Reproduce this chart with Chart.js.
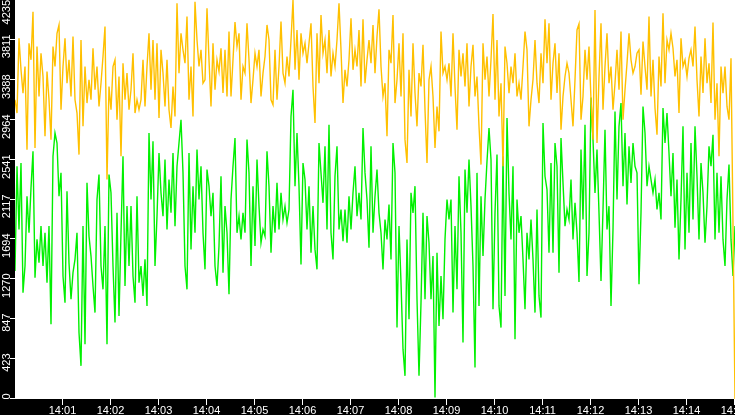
<!DOCTYPE html>
<html>
<head>
<meta charset="utf-8">
<title>Two series, 14:00 - 14:15</title>
<script src="https://cdn.jsdelivr.net/npm/chart.js@4.4.1/dist/chart.umd.min.js"></script>
<style>
  html, body { margin: 0; padding: 0; background: #000; }
  #wrap { width: 735px; height: 415px; position: relative; }
</style>
</head>
<body>
<div id="wrap"><canvas id="chart"></canvas></div>
<script>
// One sample every 2.5 s, starting at 14:00:00
const STEP_SECONDS = 2.5;

// Upper (orange) series
const orangeValues = [
  3176,3035,3829,3494,3247,3529,2647,3776,3600,4111,
  2664,3741,3211,3670,3423,2788,3476,3176,2752,3741,
  3529,3882,3970,3070,3529,3829,3352,3600,3211,3847,
  3176,3035,2594,3811,2894,3529,3141,3388,3176,3723,
  3282,3529,3105,3352,3635,3953,2329,3317,3070,3529,
  3600,2964,
  3423,2576,3564,3176,3459,3070,3282,3670,3035,3176,
  3070,3176,3600,3105,3529,3882,3282,3811,3176,3776,
  2982,3706,3459,3105,3600,3070,2876,3317,2999,4200,
  3459,3882,3706,3564,4059,3176,3529,2999,4217,3811,
  3529,3706,3352,3388,4147,3600,3105,3776,3282,3600,
  3476,3723,
  3247,3706,3211,3900,3211,3600,4000,3741,3882,3176,
  3529,3459,3988,3600,3141,3388,3670,3529,3706,3211,
  3459,3635,3970,3811,3176,3123,3706,3176,3529,4006,
  3459,3352,3635,3423,3811,4235,3494,3917,3388,3882,
  3670,3776,3564,3776,3988,3317,2929,3882,3352,4076,
  3670,3811,
  3459,3917,3423,3670,3529,3811,4200,3706,3141,3494,
  3317,3600,4041,3494,3706,3529,3917,3317,4030,3352,
  3600,3811,3564,3970,3459,3847,4136,3529,3211,3352,
  2788,3706,3564,4076,3141,3388,3776,3211,3882,2753,
  2505,3494,2999,3776,3247,2894,3459,3317,3759,3070,
  2505,3388,
  3529,3211,2664,3105,2841,3900,3459,3529,3388,3564,
  3211,3882,3317,2858,3706,3423,3670,3317,3776,3105,
  3529,3759,3211,3423,2894,2488,3776,3388,3635,3211,
  3600,4087,3176,3811,2999,3352,2470,3741,3564,3247,
  3529,3352,3670,3211,3352,3176,3529,3900,3706,2894,
  3176,3388,
  3811,3352,3141,3670,3352,4030,3564,3988,3176,3564,
  3776,3247,3670,2858,3211,3423,3564,3459,3176,2894,
  3388,3917,3981,2964,3211,3706,3388,3741,3176,2753,
  4129,2717,3423,3988,3070,3529,3882,3352,3529,3070,
  3352,3706,3282,3900,2964,3282,3564,3882,3600,3459,
  3529,3670,
  3706,3229,3794,3529,3282,4059,3211,3600,3088,2805,
  3635,3317,4094,3352,3811,3706,3882,3723,3423,3600,
  3035,3829,3529,3600,3423,3617,3706,3529,3953,3388,
  2999,3635,3247,3829,3352,3564,3141,3995,2964,3352,
  2576,3529,3247,3529,3105,2964,3617,1835,0
];

// Lower (green) series
const greenValues = [
  1358,2470,1799,2505,1129,1411,2152,1764,2241,2629,
  1288,1694,1446,1835,1411,1764,1235,1835,793,2576,
  2823,2717,2152,2400,1305,1023,2205,1446,1058,1341,
  1482,1764,705,352,1835,582,2294,1729,1517,1199,
  917,2117,2382,1411,1164,1835,582,2382,2188,1411,
  811,1976,
  882,1764,2576,1199,2047,1411,2047,1305,1023,2152,
  1235,1411,1094,1482,988,2823,2117,2735,1411,1941,
  2611,2188,1941,2541,1799,2329,1976,2611,1835,2470,
  2717,2964,2400,1411,1164,2611,1588,2259,1764,2647,
  2117,2470,1764,1376,2435,2259,1941,2188,1411,1199,
  1623,2364,
  1341,2047,1764,1111,2117,2470,2770,1764,1941,1694,
  1976,1764,2753,2400,1411,2259,1623,2541,2047,1658,
  1799,1729,2629,2259,1552,2047,1764,2294,1799,2188,
  1905,2047,1870,2011,2999,3282,2259,2823,2259,1429,
  2505,2329,1799,2259,1552,2047,1588,1376,2717,2400,
  2082,2682,
  1799,2911,1764,1482,2364,2682,1799,2011,1676,2011,
  1658,2152,1799,2188,2470,1941,2188,1905,2876,2400,
  2117,1605,2682,1764,2152,2435,1976,1764,1376,1905,
  1694,2064,1482,2717,2400,758,1835,1235,529,246,
  1694,846,2188,1976,2259,1058,246,1023,1976,1058,
  1941,1658,
  1058,1517,17,1552,776,1305,846,1694,2117,1905,
  2117,917,1835,1164,2364,1764,599,2435,1976,2541,
  2047,1411,334,2400,988,2152,1517,2117,2523,2876,
  2541,952,1976,2594,988,758,2576,1094,2982,2188,
  1694,2470,634,2117,1764,1941,1482,952,1764,1482,
  1905,1482,
  917,2011,1094,864,2929,2364,2223,1552,2505,1552,
  2717,2470,1341,2770,2294,1835,2011,1905,2329,1694,
  2082,1764,1241,2647,1905,2911,1305,1764,3201,2753,
  2188,2647,1976,1252,2011,2858,1799,2047,988,1799,
  3052,2117,2894,3141,2259,2823,2064,2682,2294,2717,
  2470,2400,
  1217,1976,3105,2823,2259,2470,2329,2188,2329,2011,
  2188,1905,3088,2717,3035,2611,2152,2611,1817,2329,
  1482,2117,2894,1588,2400,1764,2717,1905,2894,2364,
  1694,2505,2188,1658,2047,2682,2470,2805,1694,2400,
  1764,2364,1694,1411,2117,2488,1694,1305,1835
];

// Axis labels
const yTickValues = [0, 423, 847, 1270, 1694, 2117, 2541, 2964, 3388, 3811, 4235];
const xTickLabels = ['14:01', '14:02', '14:03', '14:04', '14:05', '14:06', '14:07', '14:08',
                     '14:09', '14:10', '14:11', '14:12', '14:13', '14:14', '14:15'];

const Y_MAX = 4235;
const X_MAX = 900;

function toPoints(values) {
    return values.map((v, i) => ({ x: i * STEP_SECONDS, y: v }));
}

// Black frame, rotated y labels and time labels drawn from the scales
const framePlugin = {
    id: 'frame',
    beforeDraw(chart) {
        const { ctx, chartArea: a, width, height } = chart;
        ctx.save();
        ctx.fillStyle = '#000';
        ctx.fillRect(0, 0, width, height);
        ctx.fillStyle = '#fff';
        ctx.fillRect(a.left, a.top, a.right - a.left, a.bottom - a.top);
        ctx.restore();
    },
    afterDraw(chart) {
        const { ctx, chartArea: a } = chart;
        const xs = chart.scales.x;
        const ys = chart.scales.y;
        ctx.save();
        ctx.strokeStyle = '#fff';
        ctx.fillStyle = '#fff';
        ctx.lineWidth = 1;
        ctx.font = '11px "Liberation Sans", Arial, sans-serif';

        // y axis: short ticks and labels reading bottom-to-top
        yTickValues.forEach(v => {
            const y = Math.round(ys.getPixelForValue(v)) - 0.5;
            ctx.beginPath();
            ctx.moveTo(a.left - 5, y);
            ctx.lineTo(a.left, y);
            ctx.stroke();

            const label = String(v);
            const w = ctx.measureText(label).width;
            const top = Math.max(0, y - 5);
            ctx.save();
            ctx.translate(10, top + w);
            ctx.rotate(-Math.PI / 2);
            ctx.textAlign = 'left';
            ctx.textBaseline = 'alphabetic';
            ctx.fillText(label, 0, 0);
            ctx.restore();
        });

        // x axis: minute ticks
        ctx.textAlign = 'center';
        ctx.textBaseline = 'alphabetic';
        xTickLabels.forEach((label, k) => {
            const x = Math.round(xs.getPixelForValue((k + 1) * 60)) - 0.5;
            ctx.beginPath();
            ctx.moveTo(x, a.bottom);
            ctx.lineTo(x, a.bottom + 6);
            ctx.stroke();
            ctx.fillText(label, x, a.bottom + 15);
        });
        ctx.restore();
    }
};

const ctx = document.getElementById('chart').getContext('2d');
const chart = new Chart(ctx, {
    type: 'line',
    data: {
        datasets: [
            {
                label: 'orange',
                data: toPoints(orangeValues),
                borderColor: '#ffc000',
                borderWidth: 1.4,
                pointRadius: 0,
                tension: 0
            },
            {
                label: 'green',
                data: toPoints(greenValues),
                borderColor: '#00f000',
                borderWidth: 1.4,
                pointRadius: 0,
                tension: 0
            }
        ]
    },
    options: {
        responsive: true,
        maintainAspectRatio: false,
        animation: false,
        devicePixelRatio: 1,
        events: [],
        layout: { padding: { left: 15, right: 0, top: 0, bottom: 16 } },
        plugins: {
            legend: { display: false },
            tooltip: { enabled: false }
        },
        scales: {
            x: { type: 'linear', display: false, min: 0, max: X_MAX },
            y: { type: 'linear', display: false, min: 0, max: Y_MAX }
        }
    },
    plugins: [framePlugin]
});
</script>
</body>
</html>
